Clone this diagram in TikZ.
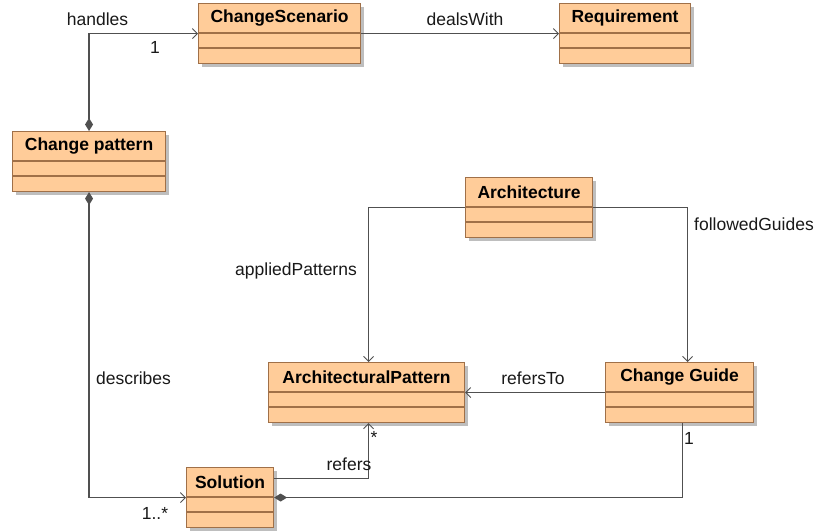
\documentclass[tikz,border=0pt]{standalone}
\usepackage{fontspec}
\setmainfont{Liberation Sans}
\usetikzlibrary{arrows.meta}

\definecolor{clsfill}{RGB}{255,204,153}
\definecolor{clsedge}{RGB}{160,112,72}
\definecolor{shadowgray}{RGB}{190,190,190}
\definecolor{wire}{RGB}{80,80,80}

\tikzset{
  cls/.style={draw=clsedge, line width=1.1pt, fill=clsfill, rectangle,
    anchor=north west, inner sep=0pt, minimum height=60pt},
  clsshadow/.style={fill=shadowgray, draw=none},
  clstitle/.style={font=\fontsize{17.5}{19}\selectfont\bfseries, inner sep=0pt},
  sep/.style={draw=clsedge, line width=1.1pt},
  openhead/.tip={Straight Barb[length=5pt,width=10pt,line width=0.9pt]},
  fullhead/.tip={Diamond[length=13pt,width=8pt,fill=wire]},
  assoc/.style={draw=wire, line width=1.4pt, -openhead},
  comp/.style={draw=wire, line width=1.4pt},
  lbl/.style={font=\fontsize{17.5}{19}\selectfont, inner sep=0pt, text=black!90},
}

% \umlclass{name}{x}{y}{width}{title}
\newcommand\umlclass[5]{%
  \fill[clsshadow] (#2+4,#3+4) rectangle ++(#4,60);
  \node[cls, minimum width=#4 pt] (#1) at (#2,#3) {};
  \node[clstitle] (#1-t) at ([yshift=-15pt]#1.north) {#5};
  \draw[sep] ([yshift=-30pt]#1.north west) -- ([yshift=-30pt]#1.north east);
  \draw[sep] ([yshift=-45pt]#1.north west) -- ([yshift=-45pt]#1.north east);
}

\begin{document}
\begin{tikzpicture}[x=1pt, y=-1pt]
\useasboundingbox[fill=white] (0,0) rectangle (818,530);

\umlclass{cs}{198}{3}{162}{ChangeScenario}
\umlclass{req}{559}{3}{131}{Requirement}
\umlclass{cp}{12}{131}{153}{Change pattern}
\umlclass{arch}{465}{177}{127}{Architecture}
\umlclass{ap}{268}{362}{196}{ArchitecturalPattern}
\umlclass{cg}{605}{362}{148}{Change Guide}
\umlclass{sol}{186}{467}{87}{Solution}

% anchor points where connectors leave a class off-centre
\coordinate (cgIn) at ([xshift=8pt]cg.north);
\coordinate (cgOut) at ([xshift=3pt]cg.south);
\coordinate (solOut) at ([yshift=19pt]sol.east);
\coordinate (apIn) at ([xshift=2pt]ap.south);

% associations
\draw[assoc, fullhead-openhead] (cp.north) |- (cs.west);
\draw[assoc] (cs.east) -- (req.west);
\draw[assoc, fullhead-openhead] (cp.south) |- (sol.west);
\draw[assoc] (arch.west) -| ([xshift=2pt]ap.north);
\draw[assoc] (arch.east) -| (cgIn);
\draw[assoc] (cg.west) -- (ap.east);
\draw[assoc] (solOut) -| (apIn);
\draw[comp, fullhead-] (sol.east) -| (cgOut);

% role names and multiplicities
\node[lbl] (l1) at (97.5,19) {handles};
\node[lbl] (l2) at (155,47) {1};
\node[lbl] (l3) at (465,19) {dealsWith};
\node[lbl] (l4) at (133.5,378) {describes};
\node[lbl] (l5) at (155,513) {1..*};
\node[lbl] (l6) at (296,271) {appliedPatterns};
\node[lbl] (l7) at (754,224) {followedGuides};
\node[lbl] (l8) at (533,378) {refersTo};
\node[lbl] (l9) at (349,464) {refers};
\node[lbl] (l10) at (374,437) {*};
\node[lbl] (l11) at (689,438) {1};
\end{tikzpicture}
\end{document}
